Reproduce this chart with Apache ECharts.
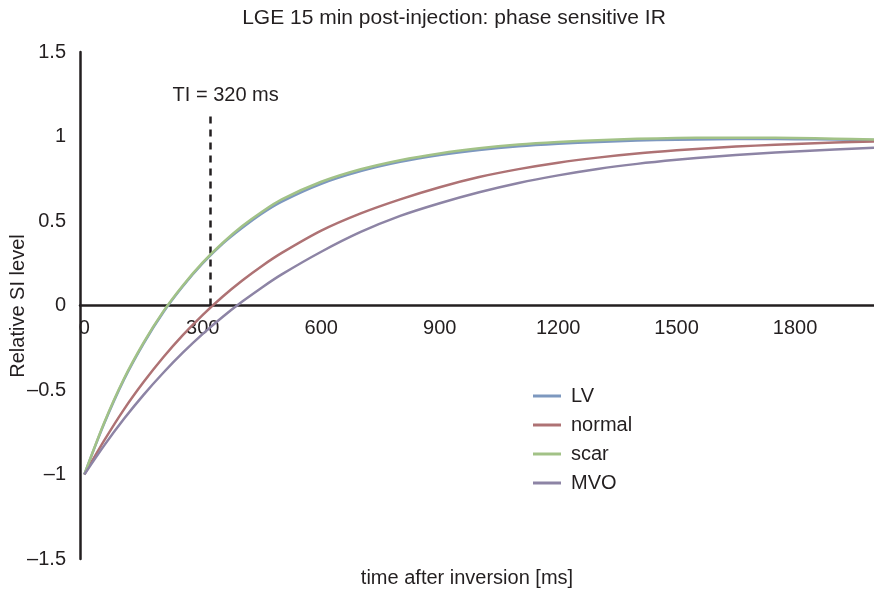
<!DOCTYPE html>
<html>
<head>
<meta charset="utf-8">
<script src="https://cdn.jsdelivr.net/npm/echarts@6/dist/echarts.min.js"></script>
<style>
html,body{margin:0;padding:0;background:#fff;}
#chart{width:874px;height:590px;}
</style>
</head>
<body>
<div id="chart"></div>
<script>
// ---- data ----
const titleText = 'LGE 15 min post-injection: phase sensitive IR';
const xAxisName = 'time after inversion [ms]';
const yAxisName = 'Relative SI level';
const seriesNames = ['LV', 'normal', 'scar', 'MVO'];
const seriesColors = ['#7d98bf', '#ae7274', '#a2c287', '#8d84a5'];

const timeValues = [0, 50, 100, 150, 200, 250, 300, 350, 400, 450, 500, 600, 700, 800, 900, 1000, 1100, 1200, 1300, 1400, 1500, 1600, 1700, 1800, 1900, 2000];
const lvValues = [-1, -0.70, -0.44, -0.225, -0.04, 0.115, 0.25, 0.365, 0.46, 0.545, 0.615, 0.72, 0.795, 0.85, 0.89, 0.92, 0.942, 0.957, 0.968, 0.976, 0.981, 0.984, 0.985, 0.984, 0.982, 0.979];
const normalValues = [-1, -0.80, -0.616, -0.453, -0.306, -0.174, -0.055, 0.052, 0.148, 0.234, 0.311, 0.443, 0.545, 0.628, 0.70, 0.76, 0.807, 0.845, 0.875, 0.899, 0.918, 0.934, 0.946, 0.956, 0.964, 0.970];
const scarValues = [-1, -0.695, -0.435, -0.22, -0.035, 0.12, 0.255, 0.37, 0.47, 0.555, 0.628, 0.732, 0.806, 0.86, 0.90, 0.93, 0.952, 0.967, 0.978, 0.986, 0.991, 0.993, 0.993, 0.991, 0.987, 0.982];
const mvoValues = [-1, -0.829, -0.672, -0.529, -0.398, -0.278, -0.168, -0.068, 0.023, 0.107, 0.184, 0.318, 0.435, 0.53, 0.605, 0.67, 0.725, 0.77, 0.808, 0.838, 0.862, 0.882, 0.898, 0.911, 0.923, 0.933];

const xTickLabels = [0, 300, 600, 900, 1200, 1500, 1800];
const xMin = -11, xMax = 2000;
const yMin = -1.5, yMax = 1.5, yInterval = 0.5;

const tiValue = 320;      // inversion time marker
const tiTop = 1.14;       // top of dashed marker (SI level)
const tiLabel = 'TI = 320 ms';

// ---- chart ----
const FONT = '"Liberation Sans", Arial, Helvetica, sans-serif';
const INK = '#231f20';
const allValues = [lvValues, normalValues, scarValues, mvoValues];

const GRID = {left: 80, right: 0, top: 52, bottom: 31};
const gridHeight = 590 - GRID.top - GRID.bottom;
const xAxisOffset = -gridHeight * (0 - yMin) / (yMax - yMin);

const chart = echarts.init(document.getElementById('chart'), null, {renderer: 'canvas'});

const series = seriesNames.map((name, i) => {
  const s = {
    name: name,
    type: 'line',
    data: timeValues.map((t, k) => [t, allValues[i][k]]),
    showSymbol: false,
    symbol: 'none',
    smooth: 0.3,
    color: seriesColors[i],
    lineStyle: {width: 2.5, color: seriesColors[i]},
    z: 3 + i
  };
  if (i === 0) {
    s.markLine = {
      silent: true,
      symbol: 'none',
      label: {show: false},
      lineStyle: {type: [7, 6], color: INK, width: 2.5},
      data: [[{coord: [tiValue, 0]}, {coord: [tiValue, tiTop]}]]
    };
  }
  return s;
});

chart.setOption({
  animation: false,
  backgroundColor: '#fff',
  textStyle: {fontFamily: FONT},
  grid: Object.assign({containLabel: false}, GRID),
  xAxis: {
    type: 'value',
    min: xMin,
    max: xMax,
    position: 'bottom',
    offset: xAxisOffset,
    axisLine: {show: true, onZero: false, lineStyle: {color: INK, width: 2.5}},
    axisTick: {show: false},
    splitLine: {show: false},
    axisLabel: {
      customValues: xTickLabels,
      fontSize: 20,
      color: INK,
      fontFamily: FONT,
      margin: 13,
      formatter: v => String(v)
    }
  },
  yAxis: {
    type: 'value',
    min: yMin,
    max: yMax,
    interval: yInterval,
    axisLine: {show: true, onZero: false, lineStyle: {color: INK, width: 2.5}},
    axisTick: {show: false},
    splitLine: {show: false},
    axisLabel: {
      fontSize: 20,
      color: INK,
      fontFamily: FONT,
      margin: 14,
      formatter: v => String(v).replace('-', '\u2013')
    }
  },
  legend: {
    orient: 'vertical',
    left: 528,
    top: 381,
    icon: 'rect',
    itemWidth: 28,
    itemHeight: 3,
    itemGap: 9,
    data: seriesNames,
    textStyle: {fontSize: 20, color: INK, fontFamily: FONT, padding: [0, 0, 0, 5]}
  },
  series: series
});

const tiPx = chart.convertToPixel({gridIndex: 0}, [tiValue, tiTop]);

chart.setOption({
  graphic: [
    {type: 'text', x: 454, y: 18, style: {text: titleText, fontSize: 21, fontFamily: FONT, fill: INK, align: 'center', verticalAlign: 'middle'}},
    {type: 'text', x: tiPx[0] + 15, y: tiPx[1] - 17, style: {text: tiLabel, fontSize: 20, fontFamily: FONT, fill: INK, align: 'center', verticalAlign: 'middle'}},
    {type: 'text', x: 467, y: 578, style: {text: xAxisName, fontSize: 20, fontFamily: FONT, fill: INK, align: 'center', verticalAlign: 'middle'}},
    {type: 'text', x: 18, y: 306, rotation: Math.PI / 2, style: {text: yAxisName, fontSize: 20, fontFamily: FONT, fill: INK, align: 'center', verticalAlign: 'middle'}}
  ]
});
</script>
</body>
</html>
